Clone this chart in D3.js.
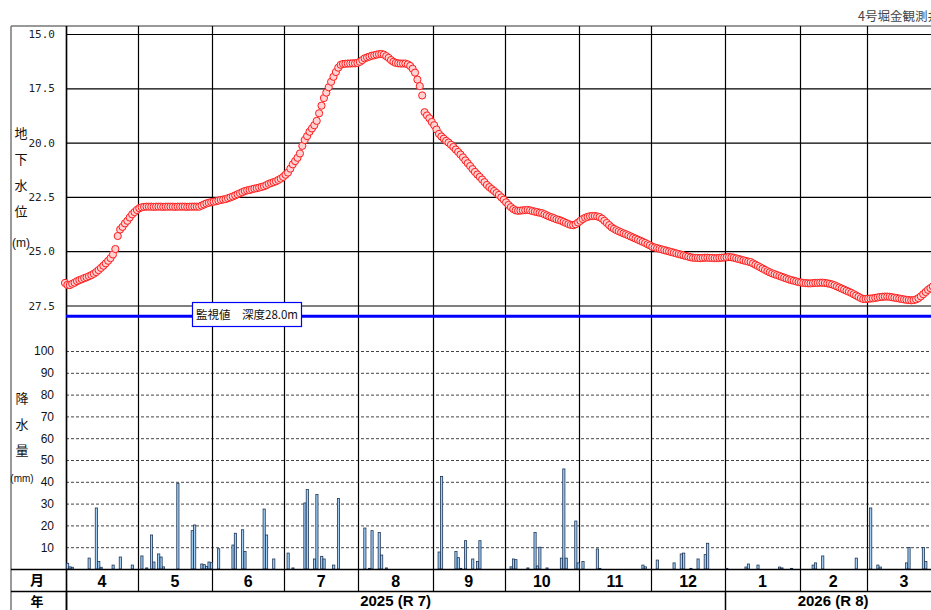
<!DOCTYPE html>
<html>
<head>
<meta charset="utf-8">
<script src="https://cdn.jsdelivr.net/npm/d3@7"></script>
<style>
  html, body { margin: 0; padding: 0; background: #fff; overflow: hidden; }
  svg { display: block; }
  text { font-family: "Liberation Sans", "Noto Sans CJK JP", sans-serif; }
</style>
</head>
<body>
<svg id="chart" width="931" height="610"></svg>
<script>
// 4号堀金観測井 — daily groundwater depth (m) and daily precipitation (mm), FY2025 (R7)

const title = "4号堀金観測井";
const months = [4, 5, 6, 7, 8, 9, 10, 11, 12, 1, 2, 3];
const monthDays = [30, 31, 30, 31, 31, 30, 31, 30, 31, 31, 28, 31];
const years = [
  { label: "2025 (R 7)", startMonth: 0, endMonth: 9 },
  { label: "2026 (R 8)", startMonth: 9, endMonth: 12 }
];
const gwTicks = [15.0, 17.5, 20.0, 22.5, 25.0, 27.5];
const rainTicks = [10, 20, 30, 40, 50, 60, 70, 80, 90, 100];
const monitorDepth = 28.0;
const monitorLabel = "監視値　深度28.0m";

// daily groundwater depth from Apr 1 (m below surface)
const gwDepth = [
  26.46, 26.55, 26.56, 26.50, 26.45, 26.38, 26.33, 26.29, 26.24, 26.20,
  26.15, 26.10, 26.04, 25.96, 25.87, 25.77, 25.67, 25.56, 25.44, 25.32,
  25.15, 24.90, 24.30, 24.00, 23.88, 23.72, 23.60, 23.45, 23.30, 23.20,
  23.10, 23.02, 22.98, 22.96, 22.95, 22.95, 22.95, 22.96, 22.95, 22.95,
  22.95, 22.96, 22.95, 22.95, 22.95, 22.95, 22.96, 22.95, 22.95, 22.95,
  22.95, 22.96, 22.95, 22.95, 22.95, 22.95, 22.95, 22.90, 22.85, 22.80,
  22.77, 22.74, 22.72, 22.70, 22.67, 22.64, 22.62, 22.60, 22.56, 22.52,
  22.48, 22.43, 22.38, 22.33, 22.28, 22.23, 22.20, 22.18, 22.15, 22.12,
  22.10, 22.07, 22.04, 22.01, 21.96, 21.90, 21.86, 21.82, 21.78, 21.72,
  21.66, 21.58, 21.48, 21.38, 21.20, 21.00, 20.85, 20.70, 20.50, 20.15,
  19.88, 19.70, 19.50, 19.35, 19.20, 19.00, 18.65, 18.30, 17.95, 17.70,
  17.45, 17.20, 16.97, 16.75, 16.55, 16.42, 16.38, 16.37, 16.36, 16.36,
  16.35, 16.35, 16.33, 16.28, 16.20, 16.12, 16.08, 16.04, 16.00, 15.98,
  15.95, 15.93, 15.92, 15.95, 16.02, 16.10, 16.20, 16.28, 16.33, 16.35,
  16.36, 16.36, 16.36, 16.40, 16.47, 16.60, 16.78, 17.10, 17.40, 17.83,
  18.60, 18.75, 18.88, 19.05, 19.20, 19.40, 19.60, 19.72, 19.82, 19.92,
  20.00, 20.10, 20.20, 20.32, 20.43, 20.55, 20.68, 20.82, 20.95, 21.08,
  21.22, 21.35, 21.47, 21.58, 21.70, 21.82, 21.95, 22.05, 22.14, 22.23,
  22.32, 22.41, 22.52, 22.63, 22.75, 22.87, 22.97, 23.06, 23.12, 23.14,
  23.13, 23.12, 23.11, 23.10, 23.12, 23.15, 23.18, 23.20, 23.23, 23.25,
  23.30, 23.35, 23.40, 23.44, 23.48, 23.53, 23.56, 23.60, 23.65, 23.70,
  23.75, 23.79, 23.80, 23.76, 23.68, 23.60, 23.52, 23.46, 23.42, 23.39,
  23.38, 23.38, 23.40, 23.43, 23.50, 23.60, 23.70, 23.80, 23.90, 23.97,
  24.03, 24.08, 24.13, 24.18, 24.22, 24.27, 24.32, 24.37, 24.42, 24.47,
  24.52, 24.57, 24.62, 24.68, 24.73, 24.80, 24.83, 24.86, 24.89, 24.92,
  24.95, 24.98, 25.01, 25.04, 25.07, 25.10, 25.13, 25.16, 25.19, 25.22,
  25.25, 25.28, 25.30, 25.31, 25.31, 25.32, 25.31, 25.30, 25.30, 25.31,
  25.31, 25.32, 25.32, 25.31, 25.30, 25.29, 25.28, 25.27, 25.28, 25.30,
  25.33, 25.36, 25.39, 25.42, 25.45, 25.48, 25.50, 25.56, 25.62, 25.68,
  25.74, 25.80, 25.86, 25.92, 25.97, 26.02, 26.06, 26.10, 26.14, 26.18,
  26.22, 26.26, 26.30, 26.33, 26.36, 26.39, 26.42, 26.44, 26.46, 26.47,
  26.48, 26.48, 26.47, 26.46, 26.46, 26.45, 26.45, 26.46, 26.48, 26.50,
  26.53, 26.57, 26.62, 26.67, 26.72, 26.77, 26.82, 26.87, 26.92, 26.98,
  27.04, 27.10, 27.16, 27.20, 27.20, 27.19, 27.18, 27.17, 27.15, 27.13,
  27.11, 27.10, 27.09, 27.09, 27.10, 27.12, 27.14, 27.16, 27.18, 27.20,
  27.22, 27.24, 27.25, 27.26, 27.25, 27.22, 27.16, 27.08, 26.98, 26.88,
  26.78, 26.70, 26.62
];

// days (counted from Apr 1) with measurable rain, and the amount (mm)
const rainDay = [
  0, 1, 2, 9, 12, 13, 14, 19, 22, 27,
  31, 33, 35, 36, 38, 39, 40, 46, 52, 53, 56, 57, 58, 59, 60,
  63, 69, 70, 73, 74, 82, 83, 86,
  92, 94, 99, 100, 103, 104, 106, 107, 111, 113,
  124, 126, 127, 130, 131, 133,
  155, 156, 162, 163, 164, 166, 169, 171, 172,
  185, 186, 187, 192, 195, 196, 197, 200, 206, 207, 208, 212,
  213, 215, 221, 222, 240, 241,
  246, 253, 256, 257, 260, 263, 266, 267,
  275, 283, 284, 288, 297, 298, 302,
  311, 312, 315, 329,
  335, 338, 339, 350, 351, 357, 358
];
const rainMm = [
  2.6, 1.0, 0.8, 5.0, 28.0, 3.4, 0.8, 1.8, 5.5, 1.8,
  6.0, 0.5, 15.6, 3.2, 6.9, 5.5, 1.0, 39.3, 17.6, 20.2, 2.3, 2.0, 1.2, 3.2, 2.9,
  9.3, 11.0, 16.4, 18.0, 8.0, 27.5, 15.6, 4.6,
  7.3, 0.5, 30.3, 36.5, 4.6, 34.2, 5.8, 4.6, 1.8, 32.3,
  18.8, 0.3, 17.6, 16.7, 6.4, 0.5,
  7.8, 42.4, 8.0, 5.2, 0.3, 13.0, 4.6, 3.4, 13.0,
  1.0, 4.6, 4.3, 0.5, 16.7, 1.4, 10.0, 0.5, 5.0, 45.9, 5.0, 22.0,
  2.8, 3.4, 9.2, 0.3, 1.8, 1.0,
  4.1, 2.8, 6.9, 7.3, 0.3, 4.6, 6.6, 11.8,
  0.3, 0.9, 2.3, 1.8, 0.9, 0.5, 0.3,
  1.8, 2.8, 6.0, 5.0,
  28.0, 1.8, 0.9, 2.8, 9.9, 9.9, 3.4
];

const svg = d3.select("#chart");
const frameL = 11, frameT = 26;
const plotL = 66, plotR = 941;
const monthRowTop = 569, yearRowTop = 591, bottom = 612;
const totalDays = d3.sum(monthDays);

const x = d3.scaleLinear().domain([0, totalDays]).range([plotL, plotR]);
const yGw = d3.scaleLinear().domain([15, 27.5]).range([34, 305.5]);
const yRain = d3.scaleLinear().domain([0, 100]).range([monthRowTop, 351]);

const monthStart = d3.cumsum([0].concat(monthDays));

// title
svg.append("text")
  .attr("x", 858).attr("y", 21)
  .attr("font-size", 12.5).attr("fill", "#444")
  .style("font-family", "'Noto Sans CJK JP', serif")
  .text(title);

// outer frame
svg.append("line").attr("x1", frameL).attr("x2", 931).attr("y1", frameT).attr("y2", frameT)
  .attr("stroke", "#777").attr("stroke-width", 1.5);
svg.append("line").attr("x1", frameL).attr("x2", frameL).attr("y1", frameT).attr("y2", bottom)
  .attr("stroke", "#777").attr("stroke-width", 1.5);

// groundwater grid
svg.append("g")
  .attr("transform", `translate(${plotL},0)`)
  .call(d3.axisLeft(yGw).tickValues(gwTicks).tickSize(-(plotR - plotL)).tickFormat(""))
  .call(g => g.select(".domain").remove())
  .call(g => g.selectAll("line").attr("stroke", "#000").attr("stroke-width", 1.2));

// rain grid (dashed)
svg.append("g")
  .attr("transform", `translate(${plotL},0)`)
  .call(d3.axisLeft(yRain).tickValues(rainTicks).tickSize(-(plotR - plotL)).tickFormat(""))
  .call(g => g.select(".domain").remove())
  .call(g => g.selectAll("line").attr("stroke", "#444").attr("stroke-width", 1).attr("stroke-dasharray", "3,2"));

// month boundaries
svg.append("g").selectAll("line")
  .data(monthStart.slice(0, months.length))
  .join("line")
  .attr("x1", d => Math.round(x(d)) + 0.5).attr("x2", d => Math.round(x(d)) + 0.5)
  .attr("y1", frameT).attr("y2", yearRowTop)
  .attr("stroke", "#000").attr("stroke-width", 1.2);

// left axis line
svg.append("line").attr("x1", plotL + 0.5).attr("x2", plotL + 0.5).attr("y1", frameT).attr("y2", bottom)
  .attr("stroke", "#000").attr("stroke-width", 1.5);

// rain bars
const bw = x(1) - x(0) - 0.2;
svg.append("g").selectAll("rect")
  .data(rainDay.map((d, i) => ({ day: d, mm: rainMm[i] })))
  .join("rect")
  .attr("x", d => x(d.day) + 0.5)
  .attr("y", d => yRain(d.mm))
  .attr("width", bw)
  .attr("height", d => yRain(0) - yRain(d.mm))
  .attr("fill", "#a3d0f7")
  .attr("stroke", "#1d3557")
  .attr("stroke-width", 0.8);

// monitoring level
svg.append("line")
  .attr("x1", plotL).attr("x2", plotR)
  .attr("y1", yGw(monitorDepth)).attr("y2", yGw(monitorDepth))
  .attr("stroke", "#0000ff").attr("stroke-width", 3);
svg.append("rect")
  .attr("x", 192.5).attr("y", 302.5).attr("width", 109).attr("height", 24)
  .attr("fill", "#fff").attr("stroke", "#0000ff").attr("stroke-width", 1.2);
svg.append("text")
  .attr("x", 247).attr("y", 318.5).attr("text-anchor", "middle")
  .attr("font-size", 11.5).attr("fill", "#111")
  .style("font-family", "'Noto Sans CJK JP', sans-serif")
  .text(monitorLabel);

// groundwater markers
svg.append("g").selectAll("circle")
  .data(gwDepth)
  .join("circle")
  .attr("cx", (d, i) => x(i) - 1)
  .attr("cy", d => yGw(d))
  .attr("r", 3.6)
  .attr("fill", "#ffd3d3")
  .attr("stroke", "#ff1a1a")
  .attr("stroke-width", 1);

// tick labels
svg.append("g")
  .attr("transform", `translate(${plotL - 8},0)`)
  .call(d3.axisLeft(yGw).tickValues(gwTicks).tickSize(0).tickFormat(d3.format(".1f")))
  .call(g => g.select(".domain").remove())
  .call(g => g.selectAll("text").attr("font-size", 11).attr("fill", "#222")
    .style("font-family", "'DejaVu Sans Mono', monospace").attr("dx", 0));
svg.append("g")
  .attr("transform", `translate(${plotL - 9},0)`)
  .call(d3.axisLeft(yRain).tickValues(rainTicks).tickSize(0))
  .call(g => g.select(".domain").remove())
  .call(g => g.selectAll("text").attr("font-size", 12).attr("fill", "#111")
    .style("font-family", "'Liberation Sans Narrow', 'Liberation Sans', sans-serif"));

// vertical axis titles
const gwTitle = ["地", "下", "水", "位"];
svg.append("g").selectAll("text").data(gwTitle).join("text")
  .attr("x", 21).attr("y", (d, i) => 138 + i * 26)
  .attr("text-anchor", "middle").attr("font-size", 13).attr("fill", "#111")
  .style("font-family", "'Noto Sans CJK JP', sans-serif").text(d => d);
svg.append("text").attr("x", 21).attr("y", 247).attr("text-anchor", "middle")
  .attr("font-size", 12).attr("fill", "#111").text("(m)");
const rainTitle = ["降", "水", "量"];
svg.append("g").selectAll("text").data(rainTitle).join("text")
  .attr("x", 22).attr("y", (d, i) => 403 + i * 26)
  .attr("text-anchor", "middle").attr("font-size", 13).attr("fill", "#111")
  .style("font-family", "'Noto Sans CJK JP', sans-serif").text(d => d);
svg.append("text").attr("x", 22).attr("y", 482).attr("text-anchor", "middle")
  .attr("font-size", 10).attr("fill", "#111")
  .style("font-family", "'Liberation Sans Narrow', sans-serif").text("(mm)");

// month / year rows
[monthRowTop, yearRowTop].forEach(yy => {
  svg.append("line").attr("x1", frameL).attr("x2", 931).attr("y1", yy + 0.5).attr("y2", yy + 0.5)
    .attr("stroke", "#000").attr("stroke-width", 1.5);
});
svg.append("g").selectAll("text").data(months).join("text")
  .attr("x", (d, i) => x(monthStart[i] + monthDays[i] / 2))
  .attr("y", 587).attr("text-anchor", "middle")
  .attr("font-size", 16).attr("font-weight", "bold").attr("fill", "#000")
  .text(d => d);
svg.append("text").attr("x", 37).attr("y", 585).attr("text-anchor", "middle")
  .attr("font-size", 14).attr("font-weight", "bold")
  .style("font-family", "'Noto Sans CJK JP', sans-serif").text("月");
svg.append("text").attr("x", 37).attr("y", 606).attr("text-anchor", "middle")
  .attr("font-size", 13).attr("font-weight", "bold")
  .style("font-family", "'Noto Sans CJK JP', sans-serif").text("年");

years.forEach(yr => {
  const a = x(monthStart[yr.startMonth]), b = x(monthStart[yr.endMonth]);
  svg.append("line").attr("x1", Math.round(a) + 0.5).attr("x2", Math.round(a) + 0.5)
    .attr("y1", yearRowTop).attr("y2", bottom).attr("stroke", "#000").attr("stroke-width", 1.5);
  svg.append("text").attr("x", (a + b) / 2).attr("y", 606).attr("text-anchor", "middle")
    .attr("font-size", 15).attr("font-weight", "bold").text(yr.label);
});
</script>
</body>
</html>
